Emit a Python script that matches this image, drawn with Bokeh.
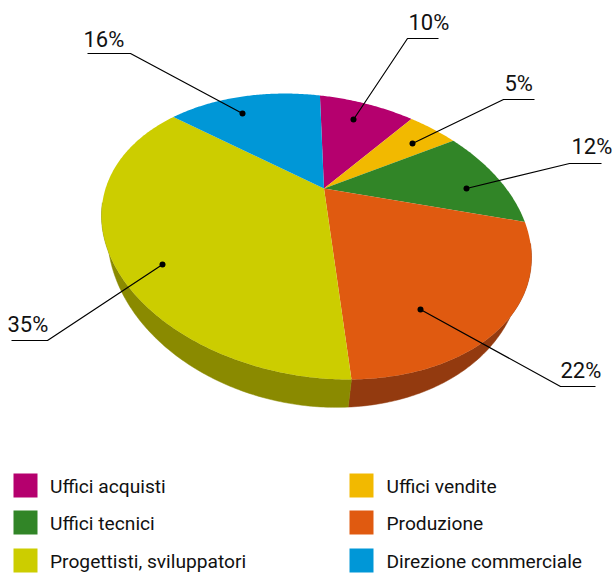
import math
from bokeh.plotting import figure
from bokeh.models import Range1d
from bokeh.core.properties import value
from bokeh.embed import file_html
from bokeh.resources import INLINE

# ---- data ----
categories = ["Uffici acquisti", "Uffici vendite", "Uffici tecnici", "Produzione",
              "Progettisti, sviluppatori", "Direzione commerciale"]
shares = [10, 5, 12, 22, 35, 16]
labels = ["10%", "5%", "12%", "22%", "35%", "16%"]
colors = ["#b5006e", "#f2b900", "#318527", "#e05a10", "#cccd00", "#0097d7"]
wall_colors = {3: "#933a0f", 4: "#8a8a00"}

# ---- geometry: a tilted, perspective disc ----
START = 91.2
TOP = dict(cx=316.0, cy=236.0, a=215.0, b=21.0, d=141.4)
LOW = dict(cx=314.0, cy=250.0, a=207.0, b=16.4, d=156.0)
APEX = (323.5, 188.0)
AP = complex(0.018, 0.178)   # rim-angle warp caused by the perspective
FONT = "Roboto"


def warp(phi_deg):
    w = complex(math.cos(math.radians(phi_deg)), math.sin(math.radians(phi_deg)))
    return (w + AP) / (1 + AP.conjugate() * w)


def rim(z, e):
    return (e["cx"] + e["a"] * z.real, e["cy"] + e["b"] * z.real - e["d"] * z.imag)


p = figure(width=614, height=574, x_range=Range1d(0, 614), y_range=Range1d(574, 0),
           output_backend="svg", toolbar_location=None, min_border=0,
           background_fill_color="white", border_fill_color="white", outline_line_color=None)
p.axis.visible = False
p.grid.visible = False

# slice boundaries
bounds = [START]
for s in shares:
    bounds.append(bounds[-1] - s * 3.6)

# side walls
for i, col in wall_colors.items():
    steps = max(8, int(shares[i] * 6))
    phis = [bounds[i] + (bounds[i + 1] - bounds[i]) * k / steps for k in range(steps + 1)]
    zs = [warp(f) for f in phis]
    keep = [z for z in zs if z.imag < 0.1]
    top = [rim(z, TOP) for z in keep]
    low = [rim(z, LOW) for z in keep]
    pts = low + top[::-1]
    p.patch([q[0] for q in pts], [q[1] for q in pts], fill_color=col, line_color=col, line_width=0.5)

# top face
for i, col in enumerate(colors):
    steps = max(8, int(shares[i] * 6))
    phis = [bounds[i] + (bounds[i + 1] - bounds[i]) * k / steps for k in range(steps + 1)]
    pts = [APEX] + [rim(warp(f), TOP) for f in phis]
    p.patch([q[0] for q in pts], [q[1] for q in pts], fill_color=col, line_color=None)

# leaders: dot, bend, end of underline, text start, text baseline
leaders = [
    (353, 119, 407, 38, 438, 408, 30),
    (412, 143, 503, 99, 534, 504, 91),
    (466, 188, 569, 163, 601, 571, 154),
    (420, 309, 560, 386, 595, 560, 378),
    (162, 264, 47, 340, 11, 7, 332),
    (242, 113, 130, 53, 87, 83, 47),
]
TEXT_SHIFT = -8
for lab, (dx, dy, bx, by, ex, tx, ty) in zip(labels, leaders):
    p.line([dx, bx, ex], [dy, by, by], line_color="#000000", line_width=1.2)
    p.scatter([dx], [dy], size=6, marker="circle", fill_color="#000000", line_color=None)
    p.text([tx], [ty + TEXT_SHIFT], text=[lab], text_font=value(FONT), text_font_size="22px",
           text_color="#111111", text_baseline="alphabetic", text_align="left")

# legend
legend_pos = [(13, 485, 49.5, 494), (349, 485, 386, 494), (13, 522, 49.5, 531),
              (349, 522, 386, 531), (13, 560, 49.5, 569), (349, 560, 386, 569)]
for cat, col, (sx, sy, tx, ty) in zip(categories, colors, legend_pos):
    p.rect([sx + 12], [sy], width=24, height=24, fill_color=col, line_color=None)
    p.text([tx], [ty + TEXT_SHIFT], text=[cat], text_font=value(FONT), text_font_size="19.2px",
           text_color="#111111", text_baseline="alphabetic", text_align="left")

open("out.html", "w").write(file_html(p, INLINE))
